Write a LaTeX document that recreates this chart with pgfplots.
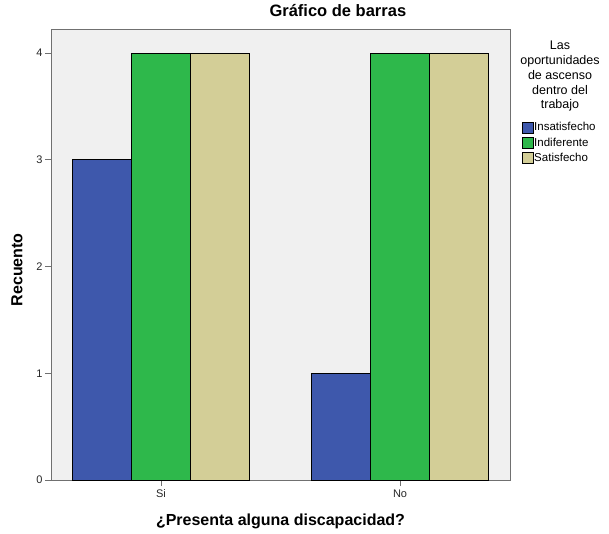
\documentclass[border=0pt]{standalone}
\usepackage{pgfplots}
\pgfplotsset{compat=1.18}
\usepackage{fontspec}
\setmainfont{Liberation Sans}
\definecolor{cblue}{HTML}{3E58AC}
\definecolor{cgreen}{HTML}{2EB84B}
\definecolor{ctan}{HTML}{D3CE97}
\definecolor{bgc}{HTML}{F0F0F0}
\definecolor{axc}{HTML}{707070}
\begin{document}
\begin{tikzpicture}
\begin{axis}[
  name=ax, at={(51pt,53pt)}, anchor=south west,
  scale only axis, width=459pt, height=451pt,
  ymin=0, ymax=4.225, xmin=-0.46, xmax=1.46,
  xtick={0,1}, xticklabels={Si,No},
  ytick={0,1,2,3,4},
  /pgf/number format/assume math mode=true,
  xtick pos=bottom, ytick pos=left,
  tick align=outside, major tick length=6pt,
  ybar=0pt, bar width=59pt,
  axis background/.style={fill=bgc},
  axis line style={draw=axc, line width=0.9pt},
  tick style={draw=axc, line width=0.9pt},
  tick label style={font=\fontsize{11}{12}\selectfont, text=black!85},
  yticklabel style={xshift=1pt},
  xlabel={¿Presenta alguna discapacidad?},
  ylabel={Recuento},
  xlabel style={font=\bfseries\fontsize{16}{18}\selectfont, at={(axis description cs:0.5,-0.091)}, anchor=center},
  ylabel style={font=\bfseries\fontsize{16}{18}\selectfont, at={(axis description cs:-0.074,0.466)}, anchor=center},
  title={Gráfico de barras},
  title style={font=\bfseries\fontsize{16.5}{18}\selectfont, at={(axis description cs:0.625,1)}, anchor=center, yshift=12pt},
  legend style={at={(axis description cs:1.026,0.795)}, anchor=north west, draw=none, fill=none,
    font=\fontsize{11.5}{13}\selectfont, inner sep=0pt, row sep=3.8pt,
    nodes={inner sep=0.5pt}},
  legend cell align=left,
  legend image code/.code={\draw[#1, draw=black, line width=0.6pt] (0pt,-5.5pt) rectangle (11pt,5.5pt);},
  every axis plot/.append style={draw=black, line width=0.8pt},
]
\addplot[fill=cblue] coordinates {(0,3) (1,1)};
\addplot[fill=cgreen] coordinates {(0,4) (1,4)};
\addplot[fill=ctan] coordinates {(0,4) (1,4)};
\legend{Insatisfecho,Indiferente,Satisfecho}
\end{axis}
\node[align=center, font=\fontsize{12.5}{14.75}\selectfont, anchor=north, inner sep=0pt] at ([xshift=50pt,yshift=-12pt]ax.north east) {Las\\oportunidades\\de ascenso\\dentro del\\trabajo};
\path (ax.south west) ++(-51pt,-53pt) rectangle ([xshift=99pt,yshift=29pt]ax.north east);
\end{tikzpicture}
\end{document}
